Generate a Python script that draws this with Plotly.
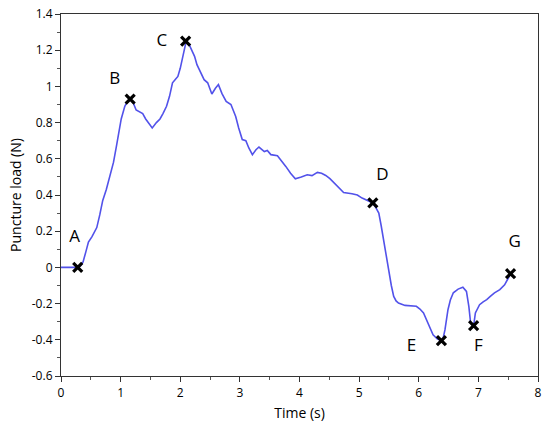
import plotly.graph_objects as go

time_s = [0.0, 0.1, 0.2, 0.28, 0.33, 0.37, 0.42, 0.46, 0.52, 0.60, 0.65, 0.70, 0.76, 0.82, 0.88, 0.93,
          0.97, 1.01, 1.07, 1.12, 1.16, 1.21, 1.26, 1.31, 1.37, 1.42, 1.46, 1.53, 1.60, 1.66, 1.71,
          1.77, 1.82, 1.87, 1.92, 1.96, 2.00, 2.04, 2.07, 2.10, 2.15, 2.20, 2.24, 2.28, 2.32, 2.36,
          2.40, 2.46, 2.53, 2.59, 2.64, 2.70, 2.77, 2.85, 2.93, 2.98, 3.04, 3.10, 3.15, 3.21, 3.27,
          3.32, 3.37, 3.41, 3.46, 3.52, 3.63, 3.70, 3.77, 3.85, 3.93, 4.03, 4.13, 4.21, 4.30, 4.37,
          4.44, 4.51, 4.58, 4.66, 4.74, 4.88, 4.97, 5.05, 5.10, 5.17, 5.23, 5.28, 5.33, 5.37, 5.41,
          5.45, 5.49, 5.54, 5.58, 5.62, 5.66, 5.77, 5.96, 6.02, 6.08, 6.16, 6.24, 6.31, 6.38, 6.41,
          6.44, 6.49, 6.53, 6.58, 6.66, 6.74, 6.80, 6.84, 6.87, 6.91, 6.93, 6.95, 7.02, 7.08, 7.14,
          7.20, 7.27, 7.36, 7.44, 7.50, 7.54]
load_n = [0.0, 0.0, 0.0, 0.0, 0.01, 0.03, 0.09, 0.14, 0.17, 0.22, 0.29, 0.37, 0.43, 0.50, 0.58, 0.67,
          0.74, 0.82, 0.89, 0.92, 0.93, 0.91, 0.87, 0.86, 0.85, 0.82, 0.80, 0.77, 0.80, 0.82, 0.85,
          0.89, 0.945, 1.02, 1.04, 1.055, 1.10, 1.166, 1.22, 1.25, 1.23, 1.19, 1.166, 1.12, 1.09, 1.07,
          1.037, 1.02, 0.958, 0.99, 1.01, 0.96, 0.917, 0.90, 0.834, 0.77, 0.706, 0.70, 0.66, 0.623, 0.65,
          0.665, 0.65, 0.64, 0.646, 0.623, 0.617, 0.59, 0.558, 0.52, 0.49, 0.50, 0.512, 0.507, 0.525, 0.52,
          0.508, 0.49, 0.466, 0.44, 0.414, 0.407, 0.40, 0.383, 0.375, 0.365, 0.356, 0.33, 0.30, 0.23, 0.153,
          0.07, -0.013, -0.10, -0.16, -0.185, -0.197, -0.21, -0.215, -0.23, -0.252, -0.317, -0.372, -0.395, -0.405, -0.39,
          -0.344, -0.234, -0.18, -0.14, -0.12, -0.11, -0.133, -0.215, -0.307, -0.322, -0.30, -0.252, -0.206, -0.19, -0.178,
          -0.16, -0.141, -0.123, -0.096, -0.06, -0.035]

point_labels = ["A", "B", "C", "D", "E", "F", "G"]
point_x = [0.28, 1.16, 2.09, 5.23, 6.38, 6.92, 7.54]
point_y = [0.0, 0.93, 1.25, 0.356, -0.405, -0.322, -0.035]
label_x = [0.23, 0.90, 1.69, 5.39, 5.88, 7.00, 7.61]
label_y = [0.165, 1.037, 1.247, 0.507, -0.438, -0.438, 0.137]

x_ticks = [0, 1, 2, 3, 4, 5, 6, 7, 8]
y_ticks = [-0.6, -0.4, -0.2, 0, 0.2, 0.4, 0.6, 0.8, 1, 1.2, 1.4]
y_tick_text = ["-0.6", "-0.4", "-0.2", "0", "0.2", "0.4", "0.6", "0.8", "1", "1.2", "1.4"]

font = "Open Sans"

fig = go.Figure()
fig.add_trace(go.Scatter(x=time_s, y=load_n, mode="lines",
                         line=dict(color="#5252ea", width=1.6), showlegend=False))
fig.add_trace(go.Scatter(x=point_x, y=point_y, mode="markers",
                         marker=dict(symbol="x-thin", size=9, color="black",
                                     line=dict(color="black", width=3.2)),
                         showlegend=False))
fig.add_trace(go.Scatter(x=label_x, y=label_y, mode="text", text=point_labels,
                         textfont=dict(family=font, size=17, color="black"),
                         showlegend=False))

axis_common = dict(showgrid=False, zeroline=False, showline=True, linecolor="#333",
                   linewidth=1.2, mirror=True, ticks="outside", ticklen=5, tickwidth=1,
                   tickcolor="#333", tickfont=dict(family=font, size=12, color="black"))
fig.update_xaxes(range=[0, 8], tickvals=x_ticks,
                 minor=dict(dtick=0.5, ticks="outside", ticklen=3, tickcolor="#555"),
                 title=dict(text="Time (s)", font=dict(family=font, size=14, color="black"), standoff=8),
                 **axis_common)
fig.update_yaxes(range=[-0.6, 1.4], tickvals=y_ticks, ticktext=y_tick_text,
                 minor=dict(dtick=0.1, ticks="outside", ticklen=3, tickcolor="#555"),
                 title=dict(text="Puncture load (N)", font=dict(family=font, size=14, color="black"), standoff=6),
                 **axis_common)
fig.update_layout(width=547, height=426, margin=dict(l=61, r=5, t=14, b=50),
                  plot_bgcolor="white", paper_bgcolor="white")
fig.write_html("out.html", config={"displayModeBar": False},
               post_script="document.body.style.margin='0';document.body.style.overflow='hidden';")
